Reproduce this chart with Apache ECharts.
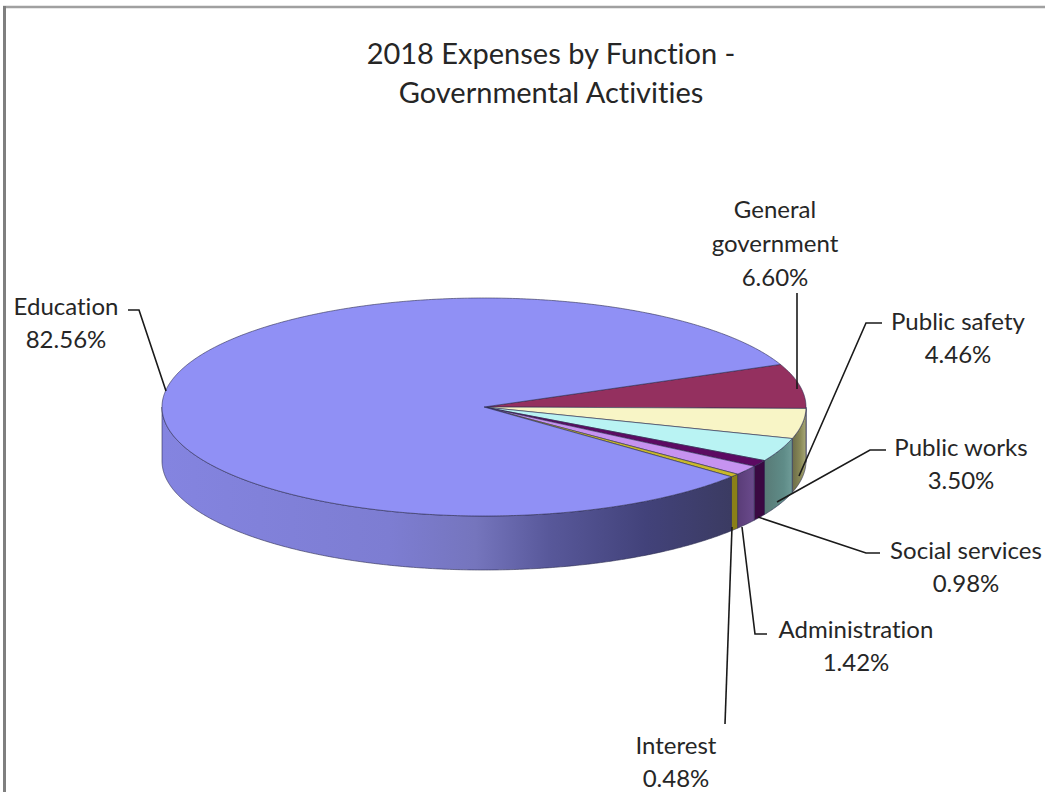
<!DOCTYPE html>
<html>
<head>
<meta charset="utf-8">
<style>
html,body{margin:0;padding:0;background:#fff}
#chart{width:1045px;height:792px}
#chart text{font-variant-ligatures:none !important;font-feature-settings:"liga" 0,"clig" 0 !important}
</style>
<script src="https://cdn.jsdelivr.net/npm/echarts@6/dist/echarts.min.js"></script>
</head>
<body>
<div id="chart"></div>
<script>
// Expense shares by function, in pie order (clockwise from the top of General government).
const categories = ['General government', 'Public safety', 'Public works', 'Social services', 'Administration', 'Interest', 'Education'];
const shares = [6.60, 4.46, 3.50, 0.98, 1.42, 0.48, 82.56];
const titleLines = ['2018 Expenses by Function -', 'Governmental Activities'];

// Slice colours: top face, and side-face gradient stops (left to right of each slice).
const topColors = ['#94305f', '#f8f5c6', '#b9f3f3', '#5c0a62', '#c693f0', '#c9b92a', '#9090f5'];
const sideStops = [
  [[0, '#8f8f78'], [1, '#8f8f78']],
  [[0, '#6b6b48'], [0.6, '#8a8a58'], [1, '#a8a878']],
  [[0, '#587a76'], [0.7, '#5f8c88'], [1, '#6f9c98']],
  [[0, '#3a0842'], [1, '#3a0842']],
  [[0, '#5a3d78'], [1, '#6a4a8c']],
  [[0, '#8a8018'], [1, '#8a8018']],
  [[0, '#8484e0'], [0.4, '#7d7dd2'], [0.55, '#7575bd'], [0.68, '#58589a'], [0.85, '#42427a'], [1, '#3b3b62']]
];

// Ellipse of the disc and its thickness, in page pixels.
const disc = { cx: 484, cy: 407, rx: 322, ry: 109, depth: 54, startDeg: 23 };

// Label text anchors and leader-line routes, keyed by slice order.
const labelLayout = [
  { text: 'General\ngovernment', x: 775, y: 242, lineHeight: 34, route: [[797, 293], [797, 389]] },
  { x: 958, y: 337, route: [[882, 323], [866, 323], [799, 476]] },
  { x: 961, y: 463, route: [[886, 450], [870, 450], [777, 502]] },
  { x: 966, y: 566, route: [[880, 553], [866, 553], [758, 517]] },
  { x: 856, y: 645, route: [[767, 634], [755, 634], [742, 527]] },
  { x: 676, y: 761, route: [[725, 724], [732, 527]] },
  { x: 66, y: 322, route: [[128, 310], [139, 310], [166, 391]] }
];

const FONT = 'Lato';
const EDGE = 'rgba(45,45,80,0.75)';

// Start and end angles of every slice, accumulated from the shares.
const total = shares.reduce((a, b) => a + b, 0);
const arcs = [];
shares.reduce((acc, v) => {
  const sweep = v / total * 360;
  arcs.push([acc, acc - sweep]);
  return acc - sweep;
}, disc.startDeg);

const pt = (deg, drop) => {
  const r = deg * Math.PI / 180;
  return [disc.cx + disc.rx * Math.cos(r), disc.cy - disc.ry * Math.sin(r) + (drop || 0)];
};
const arcPoints = (from, to, drop) => {
  const n = Math.max(2, Math.ceil(Math.abs(to - from) / 0.5));
  const out = [];
  for (let i = 0; i <= n; i++) out.push(pt(from + (to - from) * i / n, drop));
  return out;
};

// Part of a slice's rim facing the viewer (screen-lower half of the ellipse).
function frontRange(a0, a1) {
  const hi = Math.min(a0, 0);
  const lo = Math.max(a1, -180);
  return hi > lo ? [hi, lo] : null;
}

function renderSlice(params, api) {
  const i = api.value(0);
  const [a0, a1] = arcs[i];
  const children = [];
  const range = frontRange(a0, a1);
  if (range) {
    const top = arcPoints(range[0], range[1], 0);
    const bottom = arcPoints(range[1], range[0], disc.depth);
    const xs = top.map(p => p[0]);
    const x0 = Math.min(...xs), x1 = Math.max(...xs);
    const stops = sideStops[i].map(s => ({ offset: s[0], color: s[1] }));
    children.push({
      type: 'polygon', z2: 1,
      shape: { points: top.concat(bottom) },
      style: {
        fill: new echarts.graphic.LinearGradient(x0, 0, x1, 0, stops, true),
        stroke: EDGE, lineWidth: 0.8
      }
    });
  }
  children.push({
    type: 'polygon', z2: 2,
    shape: { points: [[disc.cx, disc.cy]].concat(arcPoints(a0, a1, 0)) },
    style: { fill: topColors[i], stroke: EDGE, lineWidth: 0.8 }
  });
  return { type: 'group', children };
}

function renderLabel(params, api) {
  const i = api.value(0);
  const l = labelLayout[i];
  const name = l.text || categories[i];
  return {
    type: 'group',
    children: [
      {
        type: 'polyline',
        shape: { points: l.route },
        style: { fill: 'none', stroke: '#1a1a1a', lineWidth: 1.6 }
      },
      {
        type: 'text',
        style: {
          x: l.x, y: l.y, text: name + '\n' + shares[i].toFixed(2) + '%',
          font: '24px ' + FONT, fill: '#262626',
          align: 'center', verticalAlign: 'middle', lineHeight: l.lineHeight || 33
        }
      }
    ]
  };
}

const chart = echarts.init(document.getElementById('chart'), null, { renderer: 'svg' });
const rows = categories.map((c, i) => [i, shares[i], c]);
chart.setOption({
  animation: false,
  backgroundColor: '#ffffff',
  title: {
    text: titleLines.join('\n'),
    left: 546, top: 28, textAlign: 'center',
    textStyle: { fontFamily: FONT, fontSize: 29, fontWeight: 'normal', color: '#262626', lineHeight: 39 }
  },
  graphic: [
    { type: 'line', silent: true, shape: { x1: 3, y1: 7, x2: 1045, y2: 7 }, style: { stroke: '#a0a0a0', lineWidth: 2.5 } },
    { type: 'line', silent: true, shape: { x1: 4.5, y1: 6, x2: 4.5, y2: 792 }, style: { stroke: '#7f7f7f', lineWidth: 3 } }
  ],
  series: [
    { type: 'custom', coordinateSystem: 'none', data: rows, renderItem: renderSlice, silent: true, z: 2 },
    { type: 'custom', coordinateSystem: 'none', data: rows, renderItem: renderLabel, silent: true, z: 3 }
  ]
});
</script>
</body>
</html>
